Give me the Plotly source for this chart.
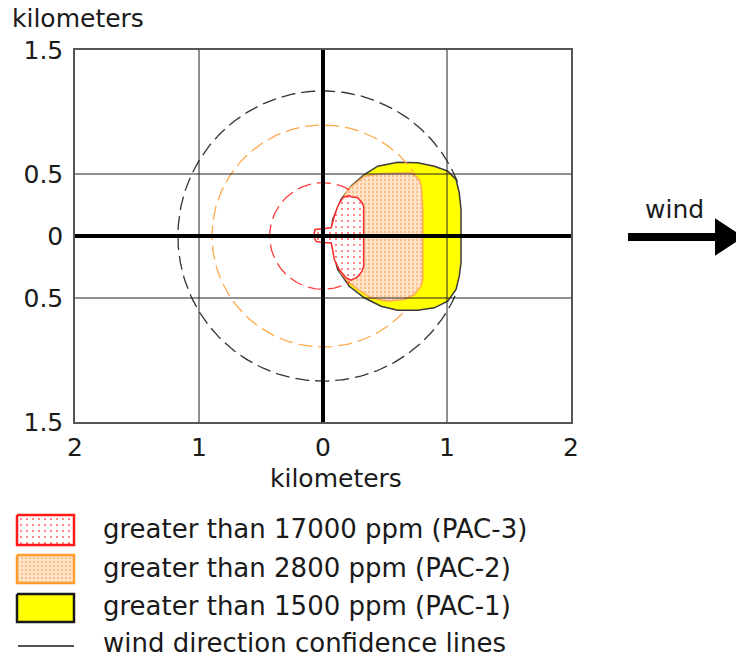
import numpy as np
import plotly.graph_objects as go

# ---------------- data (km; x = downwind, y = crosswind) ----------------
pac1_x = [0.226, 0.333, 0.441, 0.602, 0.764, 0.898, 1.006, 1.073, 1.099, 1.113, 1.113, 1.099, 1.073,
          1.006, 0.898, 0.764, 0.602, 0.468, 0.333, 0.212, 0.118, 0.078, 0.065, 0.078, 0.119, 0.145]
pac1_y = [0.402, 0.496, 0.563, 0.595, 0.590, 0.563, 0.523, 0.456, 0.348, 0.214, -0.214, -0.324, -0.431,
          -0.526, -0.579, -0.598, -0.598, -0.566, -0.498, -0.405, -0.270, -0.109, 0.0, 0.133, 0.227, 0.294]

pac2_x = [0.199, 0.333, 0.468, 0.710, 0.777, 0.796, 0.804, 0.804, 0.790, 0.736, 0.656, 0.522,
          0.387, 0.280, 0.199, 0.145, 0.105, 0.091, 0.105, 0.132]
pac2_y = [0.375, 0.482, 0.504, 0.510, 0.456, 0.375, 0.214, -0.351, -0.405, -0.472, -0.512, -0.526,
          -0.498, -0.431, -0.365, -0.297, -0.163, 0.0, 0.160, 0.240]

pac3_x = [0.212, 0.226, 0.280, 0.315, 0.328, 0.328, 0.315, 0.280, 0.226, 0.185, 0.131, 0.091,
          0.073, 0.065, -0.002, -0.056, -0.075, -0.065, -0.002, 0.065, 0.078, 0.091, 0.119, 0.159]
pac3_y = [0.327, 0.316, 0.308, 0.268, 0.240, -0.244, -0.284, -0.329, -0.356, -0.337, -0.270, -0.190,
          -0.082, -0.055, -0.055, -0.044, 0.0, 0.052, 0.058, 0.066, 0.106, 0.160, 0.240, 0.308]

# dashed confidence circles (radius km, visible arc start/end in degrees)
conf_radius = [0.43, 0.895, 1.17]
conf_arc_from = [60, 30, 22]
conf_arc_to = [300, 318, 338]
conf_colors = ["#ff3b3b", "#ffa94d", "#333333"]

x_tickvals = [-2, -1, 0, 1, 2]
x_ticktext = ["2", "1", "0", "1", "2"]
y_tickvals = [1.5, 0.5, 0, -0.5, -1.5]
y_ticktext = ["1.5", "0.5", "0", "0.5", "1.5"]
grid_x = [-1, 0, 1]
grid_y = [0.5, 0, -0.5]

legend_labels = ["greater than 17000 ppm (PAC-3)",
                 "greater than 2800 ppm (PAC-2)",
                 "greater than 1500 ppm (PAC-1)",
                 "wind direction confidence lines"]

# ---------------- figure ----------------
W, H = 736, 660
L, R, T, B = 75, 571, 50, 422
FONT = "DejaVu Sans"
TXT = "#1a1a1a"

red_pattern = dict(shape=".", size=6, solidity=0.1, fgcolor="#ff6a6a", bgcolor="#ffffff")
orange_pattern = dict(shape=".", size=4, solidity=0.3, fgcolor="#ffc088", bgcolor="#ffe6cf")

fig = go.Figure()

# threat zones
fig.add_trace(go.Scatter(x=pac1_x + pac1_x[:1], y=pac1_y + pac1_y[:1], mode="lines", fill="toself",
                         fillcolor="#ffff00", line=dict(color="#3a3a3a", width=1.5),
                         showlegend=False, hoverinfo="skip"))
fig.add_trace(go.Scatter(x=pac2_x + pac2_x[:1], y=pac2_y + pac2_y[:1], mode="lines", fill="toself",
                         fillcolor="#ffe4c8", fillpattern=orange_pattern,
                         line=dict(color="#ffab57", width=1.5), showlegend=False, hoverinfo="skip"))
fig.add_trace(go.Scatter(x=pac3_x + pac3_x[:1], y=pac3_y + pac3_y[:1], mode="lines", fill="toself",
                         fillcolor="white", fillpattern=red_pattern,
                         line=dict(color="#ff2a2a", width=1.5), showlegend=False, hoverinfo="skip"))

# confidence circles
for r, a0, a1, c in zip(conf_radius, conf_arc_from, conf_arc_to, conf_colors):
    t = np.radians(np.linspace(a0, a1, 240))
    fig.add_trace(go.Scatter(x=r * np.cos(t), y=r * np.sin(t), mode="lines",
                             line=dict(color=c, width=1.3, dash="14px,6px"),
                             showlegend=False, hoverinfo="skip"))

# grid lines drawn above zones
shapes = []
for gx in grid_x:
    shapes.append(dict(type="line", xref="x", yref="y", x0=gx, x1=gx, y0=-1.5, y1=1.5, layer="above",
                       line=dict(color="black" if gx == 0 else "#222222", width=4 if gx == 0 else 1)))
for gy in grid_y:
    shapes.append(dict(type="line", xref="x", yref="y", x0=-2, x1=2, y0=gy, y1=gy, layer="above",
                       line=dict(color="black" if gy == 0 else "#222222", width=4 if gy == 0 else 1)))

# legend swatches (pixel overlay axes)
box_x = [17, 74]
box_rows = [(515, 545), (555, 583), (594, 622)]
sw_styles = [
    dict(fillcolor="white", fillpattern=red_pattern, line=dict(color="#ff1a1a", width=2.5)),
    dict(fillcolor="#ffe4c8", fillpattern=orange_pattern, line=dict(color="#ff9d2e", width=2.5)),
    dict(fillcolor="#ffff00", line=dict(color="#1a1a1a", width=2.5)),
]
for (y0, y1), st in zip(box_rows, sw_styles):
    fig.add_trace(go.Scatter(x=[box_x[0], box_x[1], box_x[1], box_x[0], box_x[0]],
                             y=[y0, y0, y1, y1, y0], mode="lines", fill="toself",
                             xaxis="x2", yaxis="y2", showlegend=False, hoverinfo="skip", **st))
fig.add_trace(go.Scatter(x=[18, 74], y=[646, 646], mode="lines", line=dict(color="#1a1a1a", width=1.5),
                         xaxis="x2", yaxis="y2", showlegend=False, hoverinfo="skip"))

# wind arrow
shapes.append(dict(type="line", xref="x2", yref="y2", x0=628, x1=720, y0=237, y1=237,
                   line=dict(color="black", width=8)))
shapes.append(dict(type="path", xref="x2", yref="y2", path="M 716 220 L 742 237 L 716 254 Z",
                   fillcolor="black", line=dict(color="black", width=2)))

annotations = [
    dict(text="kilometers", x=10, y=18, xref="x2", yref="y2", xanchor="left", yanchor="middle",
         showarrow=False, font=dict(family=FONT, size=25, color=TXT)),
    dict(text="kilometers", x=336, y=478, xref="x2", yref="y2", xanchor="center", yanchor="middle",
         showarrow=False, font=dict(family=FONT, size=25, color=TXT)),
    dict(text="wind", x=674, y=209, xref="x2", yref="y2", xanchor="center", yanchor="middle",
         showarrow=False, font=dict(family=FONT, size=25, color=TXT)),
]
for lbl, yy in zip(legend_labels, [529, 568, 606, 643]):
    annotations.append(dict(text=lbl, x=101, y=yy, xref="x2", yref="y2", xanchor="left", yanchor="middle",
                            showarrow=False, font=dict(family=FONT, size=26, color=TXT)))

axis_common = dict(showgrid=False, zeroline=False, showline=True, mirror=True, linecolor="#555555",
                   linewidth=1.5, ticks="", tickfont=dict(family=FONT, size=25, color=TXT), fixedrange=True,
                   automargin=False)

fig.update_layout(
    template="none",
    width=W, height=H, margin=dict(l=0, r=0, t=0, b=0, pad=0, autoexpand=False),
    paper_bgcolor="white", plot_bgcolor="rgba(0,0,0,0)",
    xaxis=dict(domain=[L / W, R / W], range=[-2, 2], tickvals=x_tickvals, ticktext=x_ticktext,
               anchor="y", ticklabelstandoff=2, **axis_common),
    yaxis=dict(domain=[(H - B) / H, (H - T) / H], range=[-1.5, 1.5], tickvals=y_tickvals, ticktext=y_ticktext,
               anchor="x", ticklabelstandoff=5, **axis_common),
    xaxis2=dict(domain=[0, 1], range=[0, W], anchor="y2", visible=False, fixedrange=True, automargin=False),
    yaxis2=dict(domain=[0, 1], range=[H, 0], anchor="x2", visible=False, fixedrange=True, automargin=False),
    shapes=shapes, annotations=annotations, showlegend=False,
)

fig.write_html("out.html",
               post_script="document.body.style.margin='0';document.body.style.overflow='hidden';")
